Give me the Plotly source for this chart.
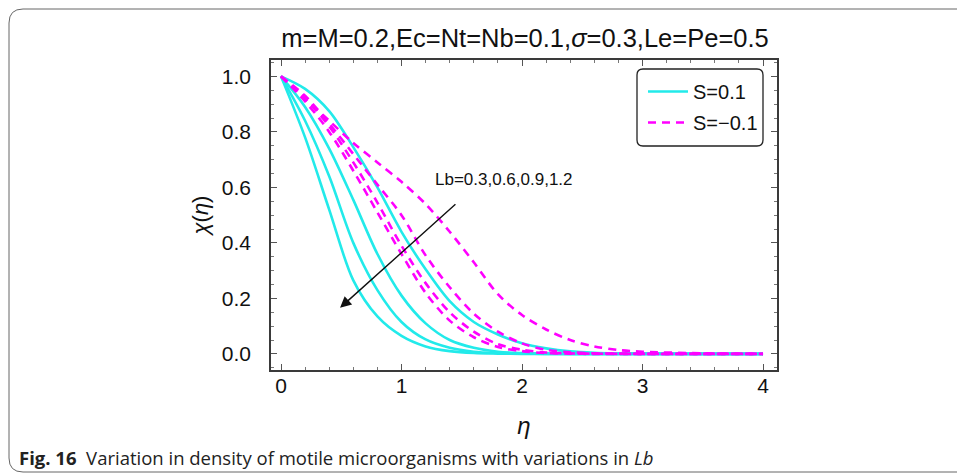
import plotly.graph_objects as go

# ---- data ----
eta = [0, 0.2, 0.4, 0.6, 0.8, 1.0, 1.2, 1.4, 1.6, 1.8, 2.0, 2.2, 2.4, 2.6, 2.8, 3.0, 3.5, 4.0]
lb_values = [1.2, 0.9, 0.6, 0.3]

# S = 0.1 (solid cyan), Lb = 1.2, 0.9, 0.6, 0.3
chi_s_pos_lb12 = [1, 0.78, 0.52, 0.265, 0.135, 0.065, 0.027, 0.01, 0.003, 0.001, 0, 0, 0, 0, 0, 0, 0, 0]
chi_s_pos_lb09 = [1, 0.84, 0.64, 0.40, 0.23, 0.115, 0.052, 0.022, 0.008, 0.003, 0.001, 0, 0, 0, 0, 0, 0, 0]
chi_s_pos_lb06 = [1, 0.89, 0.74, 0.555, 0.36, 0.21, 0.11, 0.05, 0.022, 0.008, 0.003, 0.001, 0, 0, 0, 0, 0, 0]
chi_s_pos_lb03 = [1, 0.955, 0.875, 0.745, 0.60, 0.44, 0.305, 0.19, 0.115, 0.07, 0.038, 0.02, 0.009, 0.004, 0.002, 0.001, 0, 0]

# S = -0.1 (dashed magenta), Lb = 1.2, 0.9, 0.6, 0.3
chi_s_neg_lb12 = [1, 0.91, 0.80, 0.66, 0.51, 0.36, 0.22, 0.12, 0.06, 0.025, 0.01, 0.003, 0.001, 0, 0, 0, 0, 0]
chi_s_neg_lb09 = [1, 0.92, 0.82, 0.69, 0.545, 0.39, 0.255, 0.15, 0.08, 0.035, 0.015, 0.005, 0.002, 0.001, 0, 0, 0, 0]
chi_s_neg_lb06 = [1, 0.93, 0.83, 0.72, 0.61, 0.50, 0.355, 0.24, 0.145, 0.08, 0.038, 0.015, 0.006, 0.002, 0.001, 0, 0, 0]
chi_s_neg_lb03 = [1, 0.92, 0.84, 0.76, 0.69, 0.62, 0.54, 0.44, 0.33, 0.215, 0.14, 0.088, 0.05, 0.027, 0.014, 0.008, 0.002, 0]

x_ticks = [0, 1, 2, 3, 4]
y_ticks = [0.0, 0.2, 0.4, 0.6, 0.8, 1.0]

title_text = "m=M=0.2,Ec=Nt=Nb=0.1,<i>σ</i>=0.3,Le=Pe=0.5"
legend_names = ["S=0.1", "S=\u22120.1"]
lb_label = "Lb=" + ",".join(str(v) for v in sorted(lb_values))
caption = "<b>Fig. 16</b>  Variation in density of motile microorganisms with variations in <i>Lb</i>"

# ---- layout geometry (pixels) ----
W, H = 957, 475
L, R, T, B = 271, 777, 60, 370
def X(px):
    return (px - L) / (R - L)
def Y(py):
    return (B - py) / (B - T)

CYAN = "#22EAEA"
MAGENTA = "#FF00FF"
FONT = "Liberation Sans, Arial, sans-serif"

fig = go.Figure()
pos_series = [chi_s_pos_lb12, chi_s_pos_lb09, chi_s_pos_lb06, chi_s_pos_lb03]
neg_series = [chi_s_neg_lb12, chi_s_neg_lb09, chi_s_neg_lb06, chi_s_neg_lb03]
for i, ys in enumerate(pos_series):
    fig.add_trace(go.Scatter(x=eta, y=ys, mode="lines", name=legend_names[0],
                             legendgroup="a", showlegend=(i == 0),
                             line=dict(color=CYAN, width=2.6, shape="spline", smoothing=0.9)))
for i, ys in enumerate(neg_series):
    fig.add_trace(go.Scatter(x=eta, y=ys, mode="lines", name=legend_names[1],
                             legendgroup="b", showlegend=(i == 0),
                             line=dict(color=MAGENTA, width=2.6, dash="8px,6px", shape="spline", smoothing=0.9)))

axis_common = dict(showline=True, mirror="allticks", linecolor="#3a3a3a", linewidth=1.5,
                   ticks="inside", ticklen=6, tickwidth=1, tickcolor="#555",
                   showgrid=False, zeroline=False,
                   tickfont=dict(family=FONT, size=21, color="#111"))

fig.update_xaxes(range=[-0.083, 4.116], tickvals=x_ticks, ticklabelstandoff=-4,
                 minor=dict(dtick=0.2, ticklen=3, tickcolor="#777", ticks="inside"),
                 title=dict(text="<i>η</i>", font=dict(family=FONT, size=24, color="#111"), standoff=21),
                 **axis_common)
fig.update_yaxes(range=[-0.058, 1.059], tickvals=y_ticks, tickformat=".1f", ticklabelstandoff=14,
                 minor=dict(dtick=0.05, ticklen=3, tickcolor="#777", ticks="inside"),
                 title=dict(text="<i>χ</i>(<i>η</i>)", font=dict(family=FONT, size=22, color="#111"), standoff=7),
                 **axis_common)

fig.update_layout(
    width=W, height=H,
    margin=dict(l=L, r=W - R, t=T, b=H - B),
    paper_bgcolor="white", plot_bgcolor="white",
    title=dict(text=title_text, x=525 / W, xanchor="center", y=1 - 38 / H, yanchor="middle",
               font=dict(family=FONT, size=25.5, color="#111")),
    legend=dict(x=X(643), y=Y(72), xanchor="left", yanchor="top",
                bgcolor="rgba(0,0,0,0)", borderwidth=0, tracegroupgap=2,
                font=dict(family=FONT, size=20, color="#111"), itemwidth=40),
    showlegend=True,
)

# legend frame with rounded corners
r = 6
lx0, lx1, ly0, ly1 = 637, 763, 69, 146
legend_path = (f"M {X(lx0 + r)},{Y(ly0)} L {X(lx1 - r)},{Y(ly0)} Q {X(lx1)},{Y(ly0)} {X(lx1)},{Y(ly0 + r)} "
               f"L {X(lx1)},{Y(ly1 - r)} Q {X(lx1)},{Y(ly1)} {X(lx1 - r)},{Y(ly1)} "
               f"L {X(lx0 + r)},{Y(ly1)} Q {X(lx0)},{Y(ly1)} {X(lx0)},{Y(ly1 - r)} "
               f"L {X(lx0)},{Y(ly0 + r)} Q {X(lx0)},{Y(ly0)} {X(lx0 + r)},{Y(ly0)} Z")
fig.add_shape(type="path", path=legend_path, xref="paper", yref="paper",
              line=dict(color="#222", width=1.3))

# outer figure frame (rounded, partially visible)
rr = 14
fx0, fy0, fx1, fy1 = 9, 9, 990, 472
frame_path = (f"M {X(fx1)},{Y(fy0)} L {X(fx0 + rr)},{Y(fy0)} Q {X(fx0)},{Y(fy0)} {X(fx0)},{Y(fy0 + rr)} "
              f"L {X(fx0)},{Y(fy1 - rr)} Q {X(fx0)},{Y(fy1)} {X(fx0 + rr)},{Y(fy1)} L {X(fx1)},{Y(fy1)}")
fig.add_shape(type="path", path=frame_path, xref="paper", yref="paper",
              line=dict(color="#666", width=1))

# Lb label and arrow
fig.add_annotation(x=1.85, y=0.627, xref="x", yref="y", text=lb_label, showarrow=False,
                   font=dict(family=FONT, size=17, color="#111"))
fig.add_annotation(x=0.49, y=0.166, ax=1.46, ay=0.544, xref="x", yref="y", axref="x", ayref="y",
                   text="", showarrow=True, arrowhead=2, arrowsize=1.6, arrowwidth=1.4, arrowcolor="#111")

# caption
fig.add_annotation(x=X(17), y=Y(457), xref="paper", yref="paper", xanchor="left", yanchor="middle",
                   text=caption, showarrow=False,
                   font=dict(family="Open Sans, sans-serif", size=18.5, color="#222"))

fig.write_html("out.html")
